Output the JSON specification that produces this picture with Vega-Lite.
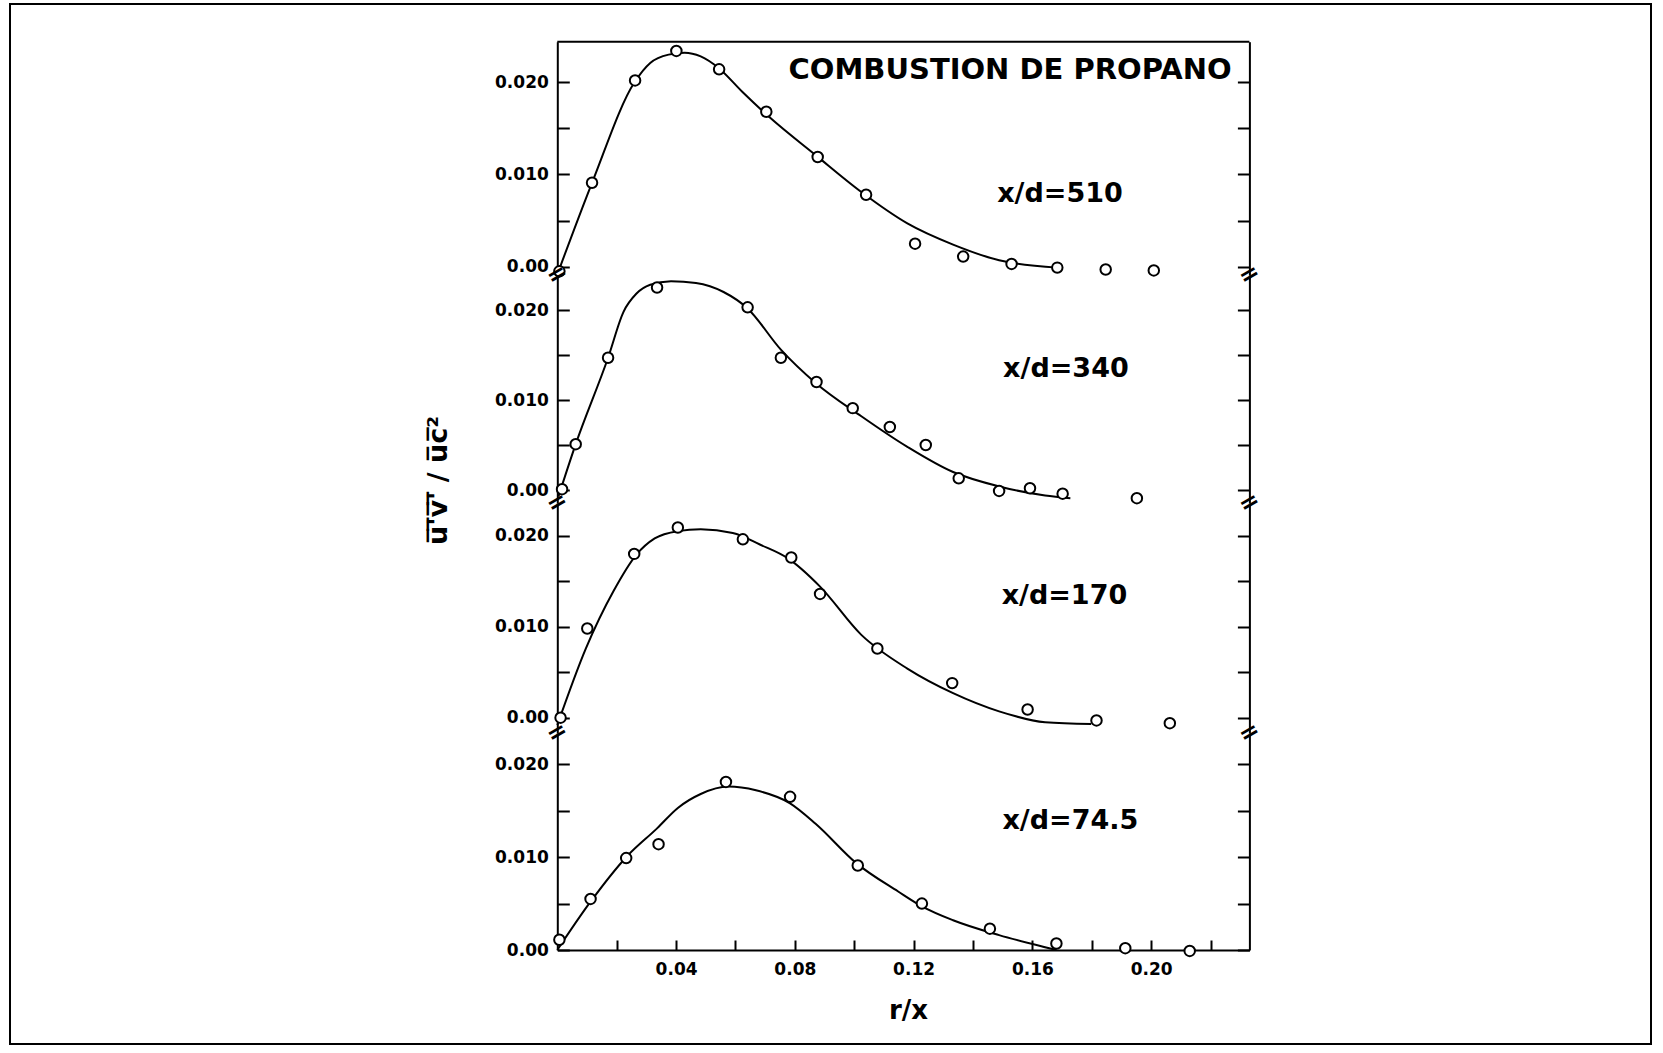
{
  "$schema": "https://vega.github.io/schema/vega-lite/v6.json",
  "width": 1641,
  "height": 1040,
  "autosize": {"type": "none"},
  "padding": {"left": 10, "top": 4, "right": 12, "bottom": 9},
  "background": "white",
  "config": {
    "view": {"stroke": "black", "strokeWidth": 2},
    "font": "DejaVu Sans",
    "axis": {
      "domainColor": "black", "domainWidth": 2,
      "tickColor": "black", "tickWidth": 2, "tickSize": -12,
      "labelFont": "DejaVu Sans", "labelFontWeight": "bold", "labelFontSize": 17, "labelColor": "black",
      "labelPadding": 21, "grid": false,
      "titleFont": "DejaVu Sans", "titleFontWeight": "bold", "titleColor": "black"
    }
  },
  "datasets": {
    "pts": [
      {"panel": "510", "r": 0.0007, "uv": -0.0005},
      {"panel": "510", "r": 0.0117, "uv": 0.0091},
      {"panel": "510", "r": 0.0262, "uv": 0.0202},
      {"panel": "510", "r": 0.0401, "uv": 0.0234},
      {"panel": "510", "r": 0.0545, "uv": 0.0214},
      {"panel": "510", "r": 0.0704, "uv": 0.0168},
      {"panel": "510", "r": 0.0877, "uv": 0.0119},
      {"panel": "510", "r": 0.1040, "uv": 0.0078},
      {"panel": "510", "r": 0.1205, "uv": 0.0025},
      {"panel": "510", "r": 0.1367, "uv": 0.0011},
      {"panel": "510", "r": 0.1530, "uv": 0.0003},
      {"panel": "510", "r": 0.1684, "uv": -0.0001},
      {"panel": "510", "r": 0.1847, "uv": -0.0003},
      {"panel": "510", "r": 0.2009, "uv": -0.0004},
      {"panel": "340", "r": 0.0016, "uv": 0.0001},
      {"panel": "340", "r": 0.0062, "uv": 0.0051},
      {"panel": "340", "r": 0.0171, "uv": 0.0147},
      {"panel": "340", "r": 0.0336, "uv": 0.0225},
      {"panel": "340", "r": 0.0641, "uv": 0.0203},
      {"panel": "340", "r": 0.0753, "uv": 0.0147},
      {"panel": "340", "r": 0.0873, "uv": 0.0120},
      {"panel": "340", "r": 0.0995, "uv": 0.0091},
      {"panel": "340", "r": 0.1120, "uv": 0.0070},
      {"panel": "340", "r": 0.1241, "uv": 0.0050},
      {"panel": "340", "r": 0.1352, "uv": 0.0013},
      {"panel": "340", "r": 0.1488, "uv": -0.0001},
      {"panel": "340", "r": 0.1592, "uv": 0.0002},
      {"panel": "340", "r": 0.1702, "uv": -0.0004},
      {"panel": "340", "r": 0.1952, "uv": -0.0009},
      {"panel": "170", "r": 0.0011, "uv": 0.0000},
      {"panel": "170", "r": 0.0101, "uv": 0.0098},
      {"panel": "170", "r": 0.0259, "uv": 0.0180},
      {"panel": "170", "r": 0.0406, "uv": 0.0209},
      {"panel": "170", "r": 0.0625, "uv": 0.0196},
      {"panel": "170", "r": 0.0788, "uv": 0.0176},
      {"panel": "170", "r": 0.0885, "uv": 0.0136},
      {"panel": "170", "r": 0.1078, "uv": 0.0076},
      {"panel": "170", "r": 0.1330, "uv": 0.0038},
      {"panel": "170", "r": 0.1584, "uv": 0.0009},
      {"panel": "170", "r": 0.1816, "uv": -0.0003},
      {"panel": "170", "r": 0.2063, "uv": -0.0006},
      {"panel": "74.5", "r": 0.0007, "uv": 0.0011},
      {"panel": "74.5", "r": 0.0112, "uv": 0.0055},
      {"panel": "74.5", "r": 0.0232, "uv": 0.0099},
      {"panel": "74.5", "r": 0.0341, "uv": 0.0114},
      {"panel": "74.5", "r": 0.0568, "uv": 0.0181},
      {"panel": "74.5", "r": 0.0784, "uv": 0.0165},
      {"panel": "74.5", "r": 0.1012, "uv": 0.0091},
      {"panel": "74.5", "r": 0.1228, "uv": 0.0050},
      {"panel": "74.5", "r": 0.1457, "uv": 0.0023},
      {"panel": "74.5", "r": 0.1681, "uv": 0.0007},
      {"panel": "74.5", "r": 0.1913, "uv": 0.0002},
      {"panel": "74.5", "r": 0.2130, "uv": -0.0001}
    ],
    "curve": [
      {"panel": "510", "r": 0.0004, "uv": -0.0005},
      {"panel": "510", "r": 0.0117, "uv": 0.0091},
      {"panel": "510", "r": 0.0260, "uv": 0.0200},
      {"panel": "510", "r": 0.0313, "uv": 0.0221},
      {"panel": "510", "r": 0.0375, "uv": 0.0230},
      {"panel": "510", "r": 0.0429, "uv": 0.0232},
      {"panel": "510", "r": 0.0483, "uv": 0.0228},
      {"panel": "510", "r": 0.0545, "uv": 0.0215},
      {"panel": "510", "r": 0.0622, "uv": 0.0190},
      {"panel": "510", "r": 0.0715, "uv": 0.0162},
      {"panel": "510", "r": 0.0870, "uv": 0.0121},
      {"panel": "510", "r": 0.1024, "uv": 0.0081},
      {"panel": "510", "r": 0.1179, "uv": 0.0047},
      {"panel": "510", "r": 0.1333, "uv": 0.0024},
      {"panel": "510", "r": 0.1488, "uv": 0.0007},
      {"panel": "510", "r": 0.1684, "uv": -0.0001},
      {"panel": "340", "r": 0.0004, "uv": -0.0007},
      {"panel": "340", "r": 0.0062, "uv": 0.0051},
      {"panel": "340", "r": 0.0171, "uv": 0.0147},
      {"panel": "340", "r": 0.0223, "uv": 0.0198},
      {"panel": "340", "r": 0.0266, "uv": 0.0218},
      {"panel": "340", "r": 0.0313, "uv": 0.0228},
      {"panel": "340", "r": 0.0383, "uv": 0.0232},
      {"panel": "340", "r": 0.0467, "uv": 0.0230},
      {"panel": "340", "r": 0.0560, "uv": 0.0220},
      {"panel": "340", "r": 0.0640, "uv": 0.0202},
      {"panel": "340", "r": 0.0753, "uv": 0.0156},
      {"panel": "340", "r": 0.0870, "uv": 0.0119},
      {"panel": "340", "r": 0.1024, "uv": 0.0082},
      {"panel": "340", "r": 0.1179, "uv": 0.0048},
      {"panel": "340", "r": 0.1333, "uv": 0.0020},
      {"panel": "340", "r": 0.1488, "uv": 0.0004},
      {"panel": "340", "r": 0.1643, "uv": -0.0006},
      {"panel": "340", "r": 0.1728, "uv": -0.0009},
      {"panel": "170", "r": 0.0000, "uv": -0.0008},
      {"panel": "170", "r": 0.0096, "uv": 0.0076},
      {"panel": "170", "r": 0.0189, "uv": 0.0139},
      {"panel": "170", "r": 0.0266, "uv": 0.0179},
      {"panel": "170", "r": 0.0328, "uv": 0.0197},
      {"panel": "170", "r": 0.0406, "uv": 0.0205},
      {"panel": "170", "r": 0.0483, "uv": 0.0207},
      {"panel": "170", "r": 0.0591, "uv": 0.0203},
      {"panel": "170", "r": 0.0684, "uv": 0.0190},
      {"panel": "170", "r": 0.0777, "uv": 0.0175},
      {"panel": "170", "r": 0.0885, "uv": 0.0144},
      {"panel": "170", "r": 0.1024, "uv": 0.0091},
      {"panel": "170", "r": 0.1179, "uv": 0.0054},
      {"panel": "170", "r": 0.1333, "uv": 0.0027},
      {"panel": "170", "r": 0.1488, "uv": 0.0007},
      {"panel": "170", "r": 0.1643, "uv": -0.0005},
      {"panel": "170", "r": 0.1798, "uv": -0.0007},
      {"panel": "74.5", "r": 0.0000, "uv": 0.0000},
      {"panel": "74.5", "r": 0.0112, "uv": 0.0052},
      {"panel": "74.5", "r": 0.0235, "uv": 0.0101},
      {"panel": "74.5", "r": 0.0336, "uv": 0.0131},
      {"panel": "74.5", "r": 0.0406, "uv": 0.0153},
      {"panel": "74.5", "r": 0.0483, "uv": 0.0168},
      {"panel": "74.5", "r": 0.0576, "uv": 0.0176},
      {"panel": "74.5", "r": 0.0669, "uv": 0.0172},
      {"panel": "74.5", "r": 0.0784, "uv": 0.0158},
      {"panel": "74.5", "r": 0.0870, "uv": 0.0136},
      {"panel": "74.5", "r": 0.1009, "uv": 0.0093},
      {"panel": "74.5", "r": 0.1148, "uv": 0.0063},
      {"panel": "74.5", "r": 0.1228, "uv": 0.0047},
      {"panel": "74.5", "r": 0.1333, "uv": 0.0032},
      {"panel": "74.5", "r": 0.1488, "uv": 0.0016},
      {"panel": "74.5", "r": 0.1643, "uv": 0.0003},
      {"panel": "74.5", "r": 0.1681, "uv": 0.0000}
    ]
  },
  "layer": [
    {
      "layer": [
        {
          "data": {"name": "curve"},
          "transform": [{"filter": "datum.panel == '510'"}],
          "mark": {"type": "line", "interpolate": "monotone", "color": "black", "strokeWidth": 2},
          "encoding": {
            "x": {"field": "r", "type": "quantitative", "scale": {"domain": [0, 0.2331], "range": [547.3, 1239.4], "nice": false, "zero": false}},
            "y": {"field": "uv", "type": "quantitative", "scale": {"domain": [-0.0009, 0.0244], "range": [271, 37.7], "nice": false, "zero": false},
                  "axis": {"orient": "left", "offset": -547.3, "values": [0, 0.005, 0.01, 0.015, 0.02], "labelExpr": "datum.value == 0 ? '0.00' : (abs(datum.value - 0.01) < 1e-6 ? '0.010' : (abs(datum.value - 0.02) < 1e-6 ? '0.020' : ''))", "title": null}}
          }
        },
        {
          "layer": [
            {
              "data": {"name": "pts"},
              "transform": [{"filter": "datum.panel == '510'"}],
              "mark": {"type": "point", "shape": "circle", "size": 110, "filled": false, "fill": "white", "stroke": "black", "strokeWidth": 2, "opacity": 1},
              "encoding": {
                "x": {"field": "r", "type": "quantitative", "scale": {"domain": [0, 0.2331], "range": [547.3, 1239.4], "nice": false, "zero": false}},
                "y": {"field": "uv", "type": "quantitative", "scale": {"domain": [-0.0009, 0.0244], "range": [271, 37.7], "nice": false, "zero": false},
                      "axis": {"orient": "right", "offset": -401.6, "values": [0, 0.005, 0.01, 0.015, 0.02], "labels": false, "title": null}}
              }
            },
            {
              "data": {"values": [{"label": "x/d=510"}]},
              "mark": {"type": "text", "font": "DejaVu Sans", "fontWeight": "bold", "fontSize": 27, "align": "center", "baseline": "middle", "color": "black"},
              "encoding": {
                "text": {"field": "label"},
                "x": {"datum": 0.1693, "type": "quantitative", "scale": {"domain": [0, 0.2331], "range": [547.3, 1239.4], "nice": false, "zero": false}},
                "y": {"datum": 0.0079, "type": "quantitative", "scale": {"domain": [-0.0009, 0.0244], "range": [271, 37.7], "nice": false, "zero": false},
                      "axis": {"orient": "right", "offset": -401.6, "values": [0, 0.005, 0.01, 0.015, 0.02], "labels": false, "title": null}}
              }
            },
            {
              "data": {"values": [{"label": "COMBUSTION DE PROPANO"}]},
              "mark": {"type": "text", "font": "DejaVu Sans", "fontWeight": "bold", "fontSize": 29, "align": "center", "baseline": "middle", "color": "black"},
              "encoding": {
                "text": {"field": "label"},
                "x": {"datum": 0.1525, "type": "quantitative", "scale": {"domain": [0, 0.2331], "range": [547.3, 1239.4], "nice": false, "zero": false}},
                "y": {"datum": 0.0213, "type": "quantitative", "scale": {"domain": [-0.0009, 0.0244], "range": [271, 37.7], "nice": false, "zero": false},
                      "axis": {"orient": "right", "offset": -401.6, "values": [0, 0.005, 0.01, 0.015, 0.02], "labels": false, "title": null}}
              }
            },
            {
              "data": {"values": [{"label": "="}]},
              "mark": {"type": "text", "font": "DejaVu Sans", "fontWeight": "bold", "fontSize": 24, "angle": 330, "align": "center", "baseline": "middle", "color": "black"},
              "encoding": {
                "text": {"field": "label"},
                "x": {"datum": 0, "type": "quantitative", "scale": {"domain": [0, 0.2331], "range": [547.3, 1239.4], "nice": false, "zero": false}},
                "y": {"datum": -0.0009, "type": "quantitative", "scale": {"domain": [-0.0009, 0.0244], "range": [271, 37.7], "nice": false, "zero": false},
                      "axis": {"orient": "right", "offset": -401.6, "values": [0, 0.005, 0.01, 0.015, 0.02], "labels": false, "title": null}}
              }
            },
            {
              "data": {"values": [{"label": "="}]},
              "mark": {"type": "text", "font": "DejaVu Sans", "fontWeight": "bold", "fontSize": 24, "angle": 330, "align": "center", "baseline": "middle", "color": "black"},
              "encoding": {
                "text": {"field": "label"},
                "x": {"datum": 0.2331, "type": "quantitative", "scale": {"domain": [0, 0.2331], "range": [547.3, 1239.4], "nice": false, "zero": false}},
                "y": {"datum": -0.0009, "type": "quantitative", "scale": {"domain": [-0.0009, 0.0244], "range": [271, 37.7], "nice": false, "zero": false},
                      "axis": {"orient": "right", "offset": -401.6, "values": [0, 0.005, 0.01, 0.015, 0.02], "labels": false, "title": null}}
              }
            },
            {
              "data": {"values": [{"label": "top"}]},
              "mark": {"type": "rule", "color": "black", "strokeWidth": 2},
              "encoding": {
                "x": {"datum": 0, "type": "quantitative", "scale": {"domain": [0, 0.2331], "range": [547.3, 1239.4], "nice": false, "zero": false}},
                "x2": {"datum": 0.2331},
                "y": {"datum": 0.0244, "type": "quantitative", "scale": {"domain": [-0.0009, 0.0244], "range": [271, 37.7], "nice": false, "zero": false},
                      "axis": {"orient": "right", "offset": -401.6, "values": [0, 0.005, 0.01, 0.015, 0.02], "labels": false, "title": null}}
              }
            }
          ]
        }
      ],
      "resolve": {"scale": {"y": "independent"}, "axis": {"y": "independent"}}
    },
    {
      "layer": [
        {
          "data": {"name": "curve"},
          "transform": [{"filter": "datum.panel == '340'"}],
          "mark": {"type": "line", "interpolate": "monotone", "color": "black", "strokeWidth": 2},
          "encoding": {
            "x": {"field": "r", "type": "quantitative", "scale": {"domain": [0, 0.2331], "range": [547.3, 1239.4], "nice": false, "zero": false}},
            "y": {"field": "uv", "type": "quantitative", "scale": {"domain": [-0.00144, 0.02389], "range": [499, 271], "nice": false, "zero": false},
                  "axis": {"orient": "left", "offset": -547.3, "values": [0, 0.005, 0.01, 0.015, 0.02], "labelExpr": "datum.value == 0 ? '0.00' : (abs(datum.value - 0.01) < 1e-6 ? '0.010' : (abs(datum.value - 0.02) < 1e-6 ? '0.020' : ''))",
                           "title": "u\u0305'\u0305v\u0305'\u0305 / u\u0305c\u0305\u00b2", "titleFontSize": 27, "titleAngle": 270, "titleX": -119, "titleY": 476, "titleAlign": "center", "titleBaseline": "middle"}}
          }
        },
        {
          "layer": [
            {
              "data": {"name": "pts"},
              "transform": [{"filter": "datum.panel == '340'"}],
              "mark": {"type": "point", "shape": "circle", "size": 110, "filled": false, "fill": "white", "stroke": "black", "strokeWidth": 2, "opacity": 1},
              "encoding": {
                "x": {"field": "r", "type": "quantitative", "scale": {"domain": [0, 0.2331], "range": [547.3, 1239.4], "nice": false, "zero": false}},
                "y": {"field": "uv", "type": "quantitative", "scale": {"domain": [-0.00144, 0.02389], "range": [499, 271], "nice": false, "zero": false},
                      "axis": {"orient": "right", "offset": -401.6, "values": [0, 0.005, 0.01, 0.015, 0.02], "labels": false, "title": null}}
              }
            },
            {
              "data": {"values": [{"label": "x/d=340"}]},
              "mark": {"type": "text", "font": "DejaVu Sans", "fontWeight": "bold", "fontSize": 27, "align": "center", "baseline": "middle", "color": "black"},
              "encoding": {
                "text": {"field": "label"},
                "x": {"datum": 0.1713, "type": "quantitative", "scale": {"domain": [0, 0.2331], "range": [547.3, 1239.4], "nice": false, "zero": false}},
                "y": {"datum": 0.0135, "type": "quantitative", "scale": {"domain": [-0.00144, 0.02389], "range": [499, 271], "nice": false, "zero": false},
                      "axis": {"orient": "right", "offset": -401.6, "values": [0, 0.005, 0.01, 0.015, 0.02], "labels": false, "title": null}}
              }
            },
            {
              "data": {"values": [{"label": "="}]},
              "mark": {"type": "text", "font": "DejaVu Sans", "fontWeight": "bold", "fontSize": 24, "angle": 330, "align": "center", "baseline": "middle", "color": "black"},
              "encoding": {
                "text": {"field": "label"},
                "x": {"datum": 0, "type": "quantitative", "scale": {"domain": [0, 0.2331], "range": [547.3, 1239.4], "nice": false, "zero": false}},
                "y": {"datum": -0.00144, "type": "quantitative", "scale": {"domain": [-0.00144, 0.02389], "range": [499, 271], "nice": false, "zero": false},
                      "axis": {"orient": "right", "offset": -401.6, "values": [0, 0.005, 0.01, 0.015, 0.02], "labels": false, "title": null}}
              }
            },
            {
              "data": {"values": [{"label": "="}]},
              "mark": {"type": "text", "font": "DejaVu Sans", "fontWeight": "bold", "fontSize": 24, "angle": 330, "align": "center", "baseline": "middle", "color": "black"},
              "encoding": {
                "text": {"field": "label"},
                "x": {"datum": 0.2331, "type": "quantitative", "scale": {"domain": [0, 0.2331], "range": [547.3, 1239.4], "nice": false, "zero": false}},
                "y": {"datum": -0.00144, "type": "quantitative", "scale": {"domain": [-0.00144, 0.02389], "range": [499, 271], "nice": false, "zero": false},
                      "axis": {"orient": "right", "offset": -401.6, "values": [0, 0.005, 0.01, 0.015, 0.02], "labels": false, "title": null}}
              }
            }
          ]
        }
      ],
      "resolve": {"scale": {"y": "independent"}, "axis": {"y": "independent"}}
    },
    {
      "layer": [
        {
          "data": {"name": "curve"},
          "transform": [{"filter": "datum.panel == '170'"}],
          "mark": {"type": "line", "interpolate": "monotone", "color": "black", "strokeWidth": 2},
          "encoding": {
            "x": {"field": "r", "type": "quantitative", "scale": {"domain": [0, 0.2331], "range": [547.3, 1239.4], "nice": false, "zero": false}},
            "y": {"field": "uv", "type": "quantitative", "scale": {"domain": [-0.00168, 0.02359], "range": [729, 499], "nice": false, "zero": false},
                  "axis": {"orient": "left", "offset": -547.3, "values": [0, 0.005, 0.01, 0.015, 0.02], "labelExpr": "datum.value == 0 ? '0.00' : (abs(datum.value - 0.01) < 1e-6 ? '0.010' : (abs(datum.value - 0.02) < 1e-6 ? '0.020' : ''))", "title": null}}
          }
        },
        {
          "layer": [
            {
              "data": {"name": "pts"},
              "transform": [{"filter": "datum.panel == '170'"}],
              "mark": {"type": "point", "shape": "circle", "size": 110, "filled": false, "fill": "white", "stroke": "black", "strokeWidth": 2, "opacity": 1},
              "encoding": {
                "x": {"field": "r", "type": "quantitative", "scale": {"domain": [0, 0.2331], "range": [547.3, 1239.4], "nice": false, "zero": false}},
                "y": {"field": "uv", "type": "quantitative", "scale": {"domain": [-0.00168, 0.02359], "range": [729, 499], "nice": false, "zero": false},
                      "axis": {"orient": "right", "offset": -401.6, "values": [0, 0.005, 0.01, 0.015, 0.02], "labels": false, "title": null}}
              }
            },
            {
              "data": {"values": [{"label": "x/d=170"}]},
              "mark": {"type": "text", "font": "DejaVu Sans", "fontWeight": "bold", "fontSize": 27, "align": "center", "baseline": "middle", "color": "black"},
              "encoding": {
                "text": {"field": "label"},
                "x": {"datum": 0.1708, "type": "quantitative", "scale": {"domain": [0, 0.2331], "range": [547.3, 1239.4], "nice": false, "zero": false}},
                "y": {"datum": 0.0134, "type": "quantitative", "scale": {"domain": [-0.00168, 0.02359], "range": [729, 499], "nice": false, "zero": false},
                      "axis": {"orient": "right", "offset": -401.6, "values": [0, 0.005, 0.01, 0.015, 0.02], "labels": false, "title": null}}
              }
            },
            {
              "data": {"values": [{"label": "="}]},
              "mark": {"type": "text", "font": "DejaVu Sans", "fontWeight": "bold", "fontSize": 24, "angle": 330, "align": "center", "baseline": "middle", "color": "black"},
              "encoding": {
                "text": {"field": "label"},
                "x": {"datum": 0, "type": "quantitative", "scale": {"domain": [0, 0.2331], "range": [547.3, 1239.4], "nice": false, "zero": false}},
                "y": {"datum": -0.00168, "type": "quantitative", "scale": {"domain": [-0.00168, 0.02359], "range": [729, 499], "nice": false, "zero": false},
                      "axis": {"orient": "right", "offset": -401.6, "values": [0, 0.005, 0.01, 0.015, 0.02], "labels": false, "title": null}}
              }
            },
            {
              "data": {"values": [{"label": "="}]},
              "mark": {"type": "text", "font": "DejaVu Sans", "fontWeight": "bold", "fontSize": 24, "angle": 330, "align": "center", "baseline": "middle", "color": "black"},
              "encoding": {
                "text": {"field": "label"},
                "x": {"datum": 0.2331, "type": "quantitative", "scale": {"domain": [0, 0.2331], "range": [547.3, 1239.4], "nice": false, "zero": false}},
                "y": {"datum": -0.00168, "type": "quantitative", "scale": {"domain": [-0.00168, 0.02359], "range": [729, 499], "nice": false, "zero": false},
                      "axis": {"orient": "right", "offset": -401.6, "values": [0, 0.005, 0.01, 0.015, 0.02], "labels": false, "title": null}}
              }
            }
          ]
        }
      ],
      "resolve": {"scale": {"y": "independent"}, "axis": {"y": "independent"}}
    },
    {
      "layer": [
        {
          "data": {"name": "curve"},
          "transform": [{"filter": "datum.panel == '74.5'"}],
          "mark": {"type": "line", "interpolate": "monotone", "color": "black", "strokeWidth": 2},
          "encoding": {
            "x": {"field": "r", "type": "quantitative", "scale": {"domain": [0, 0.2331], "range": [547.3, 1239.4], "nice": false, "zero": false},
                  "axis": {"orient": "bottom", "offset": -94, "values": [0.02, 0.04, 0.06, 0.08, 0.1, 0.12, 0.14, 0.16, 0.18, 0.2, 0.22], "labelExpr": "round(datum.value * 100) % 4 == 0 ? format(datum.value, '.2f') : ''", "tickSize": -10, "labelPadding": 21,
                           "title": "r/x", "titleFontSize": 26, "titleX": 898, "titleY": 60, "titleAlign": "center", "titleBaseline": "middle"}},
            "y": {"field": "uv", "type": "quantitative", "scale": {"domain": [0, 0.02337], "range": [946, 729], "nice": false, "zero": false},
                  "axis": {"orient": "left", "offset": -547.3, "values": [0, 0.005, 0.01, 0.015, 0.02], "labelExpr": "datum.value == 0 ? '0.00' : (abs(datum.value - 0.01) < 1e-6 ? '0.010' : (abs(datum.value - 0.02) < 1e-6 ? '0.020' : ''))", "title": null}}
          }
        },
        {
          "layer": [
            {
              "data": {"name": "pts"},
              "transform": [{"filter": "datum.panel == '74.5'"}],
              "mark": {"type": "point", "shape": "circle", "size": 110, "filled": false, "fill": "white", "stroke": "black", "strokeWidth": 2, "opacity": 1},
              "encoding": {
                "x": {"field": "r", "type": "quantitative", "scale": {"domain": [0, 0.2331], "range": [547.3, 1239.4], "nice": false, "zero": false}},
                "y": {"field": "uv", "type": "quantitative", "scale": {"domain": [0, 0.02337], "range": [946, 729], "nice": false, "zero": false},
                      "axis": {"orient": "right", "offset": -401.6, "values": [0, 0.005, 0.01, 0.015, 0.02], "labels": false, "title": null}}
              }
            },
            {
              "data": {"values": [{"label": "x/d=74.5"}]},
              "mark": {"type": "text", "font": "DejaVu Sans", "fontWeight": "bold", "fontSize": 27, "align": "center", "baseline": "middle", "color": "black"},
              "encoding": {
                "text": {"field": "label"},
                "x": {"datum": 0.1728, "type": "quantitative", "scale": {"domain": [0, 0.2331], "range": [547.3, 1239.4], "nice": false, "zero": false}},
                "y": {"datum": 0.0139, "type": "quantitative", "scale": {"domain": [0, 0.02337], "range": [946, 729], "nice": false, "zero": false},
                      "axis": {"orient": "right", "offset": -401.6, "values": [0, 0.005, 0.01, 0.015, 0.02], "labels": false, "title": null}}
              }
            }
          ]
        }
      ],
      "resolve": {"scale": {"y": "independent"}, "axis": {"y": "independent"}}
    }
  ],
  "resolve": {"scale": {"y": "independent"}, "axis": {"y": "independent"}}
}
